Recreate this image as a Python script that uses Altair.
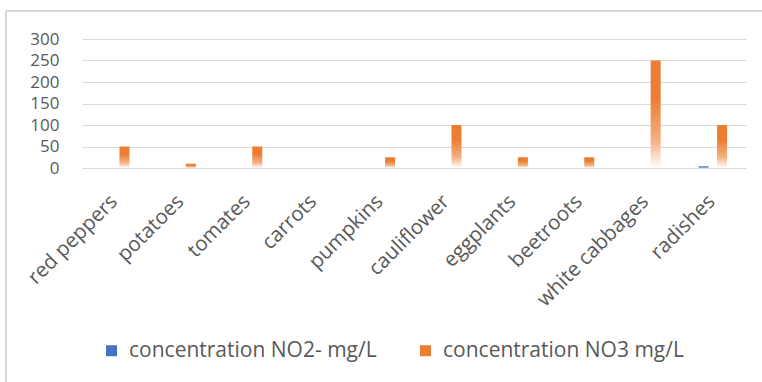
import altair as alt
import pandas as pd

categories = ["red peppers", "potatoes", "tomates", "carrots", "pumpkins",
              "cauliflower", "eggplants", "beetroots", "white cabbages", "radishes"]
no2_values = [0, 0, 0, 0, 0, 0, 0, 0, 0, 4]
no3_values = [50, 10, 50, 0, 25, 100, 25, 25, 250, 100]
series_names = ["concentration NO2- mg/L", "concentration NO3 mg/L"]
y_ticks = [0, 50, 100, 150, 200, 250, 300]

rows = []
for c, a, b in zip(categories, no2_values, no3_values):
    rows.append({"cat": c, "series": series_names[0], "value": a})
    rows.append({"cat": c, "series": series_names[1], "value": b})
df = pd.DataFrame(rows)

FONT = "Open Sans"
GRAY = "#595959"
GRID = "#D9D9D9"
BLUE = "#4472C4"
ORANGE = "#ED7D31"


def grad(c, mid, light):
    return alt.Gradient(
        gradient="linear", x1=0, y1=0, x2=0, y2=1,
        stops=[alt.GradientStop(offset=0, color=c),
               alt.GradientStop(offset=0.35, color=c),
               alt.GradientStop(offset=0.75, color=mid),
               alt.GradientStop(offset=1, color=light)])


x_enc = alt.X("cat:N", sort=categories,
              scale=alt.Scale(paddingInner=0.57, paddingOuter=0.285),
              axis=alt.Axis(title=None, labelAngle=-45, labelAlign="right",
                            labelBaseline="top", labelFont=FONT, labelFontSize=20.5,
                            labelColor=GRAY, ticks=False, domainColor=GRID,
                            labelPadding=23, labelOffset=-8, labelOverlap=False,
                            labelLimit=0))
xo_enc = alt.XOffset("series:N", sort=series_names,
                     scale=alt.Scale(domain=series_names, paddingInner=0.46, paddingOuter=0))
y_enc = alt.Y("value:Q", scale=alt.Scale(domain=[0, 300], nice=False),
              axis=alt.Axis(title=None, values=y_ticks, labelFont=FONT, labelFontSize=17,
                            labelColor=GRAY, ticks=False, domain=False, gridColor=GRID,
                            labelPadding=23, labelFlush=False))

base = alt.Chart(df)

legend_layer = base.mark_bar(opacity=0).encode(
    x=x_enc, xOffset=xo_enc, y=y_enc,
    color=alt.Color("series:N", sort=series_names,
                    scale=alt.Scale(domain=series_names, range=[BLUE, ORANGE]),
                    legend=alt.Legend(title=None, orient="none", direction="horizontal",
                                      legendX=19, legendY=301, symbolType="square",
                                      symbolSize=121, symbolOpacity=1, symbolStrokeWidth=0,
                                      labelFont=FONT, labelFontSize=21, labelColor=GRAY,
                                      labelLimit=0, columnPadding=38, labelOffset=7)))

no2_layer = base.transform_filter(alt.datum.series == series_names[0]).mark_bar(
    color=grad(BLUE, "#8FAADC", "#FFFFFF")).encode(x=x_enc, xOffset=xo_enc, y=y_enc)
no3_layer = base.transform_filter(alt.datum.series == series_names[1]).mark_bar(
    color=grad(ORANGE, "#F4B183", "#FFFFFF")).encode(x=x_enc, xOffset=xo_enc, y=y_enc)

frame_top = alt.Chart(pd.DataFrame({"k": [0]})).mark_rule(color=GRID, strokeWidth=2).encode(
    x=alt.value(-76), x2=alt.value(680), y=alt.value(-28))
frame_left = alt.Chart(pd.DataFrame({"k": [0]})).mark_rule(color=GRID, strokeWidth=2).encode(
    x=alt.value(-76), y=alt.value(-28), y2=alt.value(345))

chart = alt.layer(legend_layer, no2_layer, no3_layer, frame_top, frame_left).properties(
    width=664, height=129,
    autosize=alt.AutoSizeParams(type="none"),
    padding={"left": 82, "top": 39, "right": 16, "bottom": 214},
    background="white",
).configure_view(stroke=None)

chart.save("out.html", embed_options={"renderer": "svg", "actions": False})
